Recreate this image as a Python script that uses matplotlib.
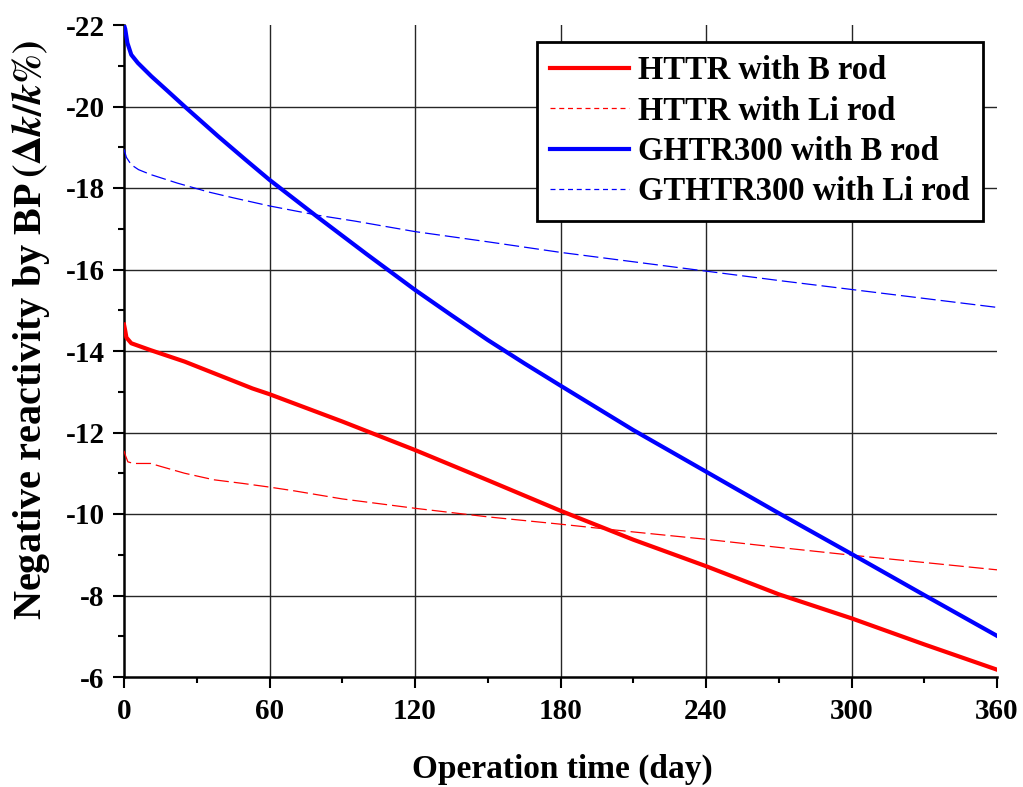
import matplotlib
matplotlib.use("Agg")
import matplotlib.pyplot as plt
from matplotlib.ticker import MultipleLocator
from matplotlib.lines import Line2D

plt.rcParams['font.family'] = ['Liberation Serif', 'DejaVu Serif']
plt.rcParams['font.weight'] = 'bold'
plt.rcParams['mathtext.fontset'] = 'stix'
plt.rcParams['axes.unicode_minus'] = False

# HTTR with B rod
httr_b_x = [0, 0.5, 1, 3, 11, 25, 39, 53, 60, 90, 120, 150, 180, 210, 240, 270, 300, 330, 360]
httr_b_y = [-14.65, -14.5, -14.33, -14.19, -14.02, -13.74, -13.41, -13.08, -12.94,
            -12.27, -11.57, -10.83, -10.08, -9.37, -8.72, -8.03, -7.44, -6.80, -6.18]

# HTTR with Li rod
httr_li_x = [0, 0.5, 1.6, 4, 11, 15, 25, 37, 49, 60, 70, 90, 120, 150, 180, 210, 240, 270, 300, 330, 360]
httr_li_y = [-11.55, -11.45, -11.28, -11.24, -11.24, -11.17, -11.0, -10.84, -10.75, -10.66, -10.57,
             -10.37, -10.14, -9.93, -9.75, -9.56, -9.38, -9.18, -8.99, -8.81, -8.63]

# GHTR300 with B rod
gt_b_x = [0, 0.5, 1.4, 3, 5.7, 11.3, 18, 25, 38.8, 50, 60, 80, 100, 120, 135, 150, 165, 180,
          210, 240, 270, 300, 330, 360]
gt_b_y = [-22.0, -21.9, -21.56, -21.27, -21.07, -20.74, -20.38, -20.0, -19.27, -18.7, -18.2,
          -17.28, -16.38, -15.5, -14.88, -14.27, -13.7, -13.15, -12.06, -11.04, -10.02, -9.02,
          -8.01, -7.01]

# GTHTR300 with Li rod
gt_li_x = [0, 1, 3, 6, 11, 22, 35, 45, 60, 80, 95, 120, 150, 180, 210, 240, 270, 300, 330, 360]
gt_li_y = [-18.95, -18.75, -18.57, -18.45, -18.33, -18.12, -17.9, -17.76, -17.56, -17.33, -17.19,
           -16.93, -16.68, -16.42, -16.19, -15.96, -15.73, -15.51, -15.29, -15.07]

labels = ['HTTR with B rod', 'HTTR with Li rod', 'GHTR300 with B rod', 'GTHTR300 with Li rod']
x_ticks = [0, 60, 120, 180, 240, 300, 360]
y_ticks = [-22, -20, -18, -16, -14, -12, -10, -8, -6]

fig = plt.figure(figsize=(10.23, 7.87), dpi=100)
ax = fig.add_axes([124/1023, 1 - 677/787, (997-124)/1023, (677-25)/787])

dash = (12, 4)
ax.plot(httr_b_x, httr_b_y, color='#ff0000', lw=3.0, zorder=3)
ax.plot(httr_li_x, httr_li_y, color='#ff0000', lw=0.9, dashes=dash, zorder=3)
ax.plot(gt_b_x, gt_b_y, color='#0000ff', lw=3.0, zorder=3)
ax.plot(gt_li_x, gt_li_y, color='#0000ff', lw=0.9, dashes=dash, zorder=3)

ax.set_xlim(0, 360)
ax.set_ylim(-6, -22)
ax.set_xticks(x_ticks)
ax.set_yticks(y_ticks)
ax.xaxis.set_minor_locator(MultipleLocator(30))
ax.yaxis.set_minor_locator(MultipleLocator(1))

for s in ['top', 'right']:
    ax.spines[s].set_visible(False)
for s in ['left', 'bottom']:
    ax.spines[s].set_linewidth(1.8)
    ax.spines[s].set_color('black')

ax.tick_params(axis='both', which='major', direction='out', length=8, width=1.5,
               labelsize=21, pad=6)
ax.tick_params(axis='both', which='minor', direction='out', length=4, width=1.5)
ax.tick_params(axis='x', which='major', pad=7)
for lab in ax.get_xticklabels() + ax.get_yticklabels():
    lab.set_fontweight('bold')

ax.grid(True, which='major', color='#262626', lw=1.0, zorder=1)
for t, v in zip(ax.yaxis.get_major_ticks(), y_ticks):
    if v in (-22, -6):
        t.gridline.set_visible(False)
for t, v in zip(ax.xaxis.get_major_ticks(), x_ticks):
    if v in (0, 360):
        t.gridline.set_visible(False)

ax.set_xlabel('Operation time (day)', fontsize=24, fontweight='bold')
ax.xaxis.set_label_coords(0.502, -0.118)
ax.set_ylabel(r'Negative reactivity by BP$\,(\Delta k/k\%)$', fontsize=29,
              fontweight='bold')
ax.yaxis.set_label_coords(-0.083, 0.532)

handles = [
    Line2D([], [], color='#ff0000', lw=3.0),
    Line2D([], [], color='#ff0000', lw=0.9, dashes=(4, 3)),
    Line2D([], [], color='#0000ff', lw=3.0),
    Line2D([], [], color='#0000ff', lw=0.9, dashes=(4, 3)),
]
leg = ax.legend(handles, labels, loc='upper right',
                bbox_to_anchor=((983-124)/(997-124), 1 - (42-25)/652),
                borderaxespad=0, frameon=True, fancybox=False,
                handlelength=2.4, handletextpad=0.3, labelspacing=0.29,
                borderpad=0.4, prop={'weight': 'bold', 'size': 23.5})
leg.get_frame().set_edgecolor('black')
leg.get_frame().set_linewidth(2.0)
leg.get_frame().set_alpha(1)
leg.set_zorder(5)

fig.savefig('out.png', dpi=100)
